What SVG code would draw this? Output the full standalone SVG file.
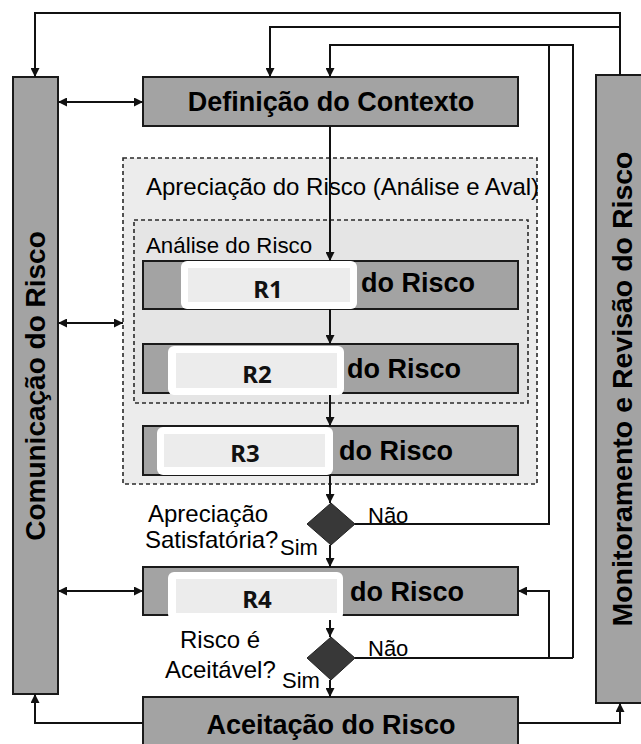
<svg xmlns="http://www.w3.org/2000/svg" width="641" height="744" viewBox="0 0 641 744">
<defs>
<marker id="ah" viewBox="0 0 10 10" refX="10" refY="5" markerWidth="10" markerHeight="9" markerUnits="userSpaceOnUse" orient="auto-start-reverse">
<path d="M0,0 L10,5 L0,10 z" fill="#111"/>
</marker>
<style>
.box{fill:#a3a3a3;stroke:#1a1a1a;stroke-width:2}
.dash{stroke:#2a2a2a;stroke-width:1.6;stroke-dasharray:4 3}
.big{font-family:"Liberation Sans",Arial,sans-serif;font-weight:bold;font-size:27px;fill:#000}
.vert{font-family:"Liberation Sans",Arial,sans-serif;font-weight:bold;font-size:28.5px;fill:#000}
.lbl{font-family:"Liberation Sans",Arial,sans-serif;font-size:24px;fill:#000}
.rl{font-family:"Noto Sans","Liberation Sans",sans-serif;font-weight:bold;font-size:24px;fill:#111}
.ov{fill:#fff}
.ovi{fill:#ececec}
.dia{fill:#383838;stroke:#222;stroke-width:1}
.c{fill:none;stroke:#111;stroke-width:2}
.ca{fill:none;stroke:#111;stroke-width:2;marker-end:url(#ah)}
.cb{fill:none;stroke:#111;stroke-width:2;marker-end:url(#ah);marker-start:url(#ah)}
</style>
</defs>
<rect width="641" height="744" fill="#fff"/>

<g id="apreciacao">
<rect x="123" y="158" width="414" height="326" fill="#ececec" class="dash"/>
<text class="lbl" x="146" y="195" font-size="23.5">Apreciação do Risco (Análise e Aval)</text>
</g>
<g id="analise">
<rect x="134" y="220" width="394" height="183" fill="#e5e5e5" class="dash"/>
<text class="lbl" x="146" y="253" style="font-size:22.3px">Análise do Risco</text>
</g>

<g id="comunicacao">
<rect class="box" x="13" y="77" width="45" height="617"/>
<text class="vert" transform="translate(45,386) rotate(-90)" text-anchor="middle" style="font-size:28px">Comunicação do Risco</text>
</g>
<g id="monitoramento">
<rect class="box" x="596" y="75" width="50" height="628"/>
<text class="vert" transform="translate(632,389) rotate(-90)" text-anchor="middle">Monitoramento e Revisão do Risco</text>
</g>

<g id="definicao">
<rect class="box" x="143" y="77" width="375" height="49"/>
<text class="big" x="331" y="111" text-anchor="middle">Definição do Contexto</text>
</g>

<g id="r1">
<rect class="box" x="143" y="261" width="375" height="48"/>
<text class="big" x="361" y="292">do Risco</text>
<rect class="ov" x="181" y="261" width="176" height="48" rx="6"/>
<rect class="ovi" x="188" y="268" width="162" height="34"/>
<text class="rl" x="268" y="298" text-anchor="middle">R1</text>
</g>
<g id="r2">
<rect class="box" x="143" y="344" width="375" height="49"/>
<text class="big" x="347" y="378">do Risco</text>
<rect class="ov" x="168" y="346" width="176" height="49" rx="6"/>
<rect class="ovi" x="176" y="353" width="161" height="35"/>
<text class="rl" x="257" y="383" text-anchor="middle">R2</text>
</g>
<g id="r3">
<rect class="box" x="143" y="426" width="375" height="49"/>
<text class="big" x="339" y="460">do Risco</text>
<rect class="ov" x="157" y="427" width="176" height="48" rx="6"/>
<rect class="ovi" x="164" y="434" width="161" height="33"/>
<text class="rl" x="245" y="462" text-anchor="middle">R3</text>
</g>

<g id="decisao1">
<polygon class="dia" points="331,503 355,524 331,545 307,524"/>
<text class="lbl" x="148" y="522">Apreciação</text>
<text class="lbl" x="145" y="548">Satisfatória?</text>
<text class="lbl" x="280" y="555" style="font-size:22px">Sim</text>
<text class="lbl" x="368" y="523" style="font-size:22px">Não</text>
</g>

<g id="r4">
<rect class="box" x="143" y="567" width="375" height="48"/>
<text class="big" x="350" y="601">do Risco</text>
<rect class="ov" x="168" y="572" width="175" height="48" rx="6"/>
<rect class="ovi" x="176" y="579" width="161" height="34"/>
<text class="rl" x="257" y="608" text-anchor="middle">R4</text>
</g>

<g id="decisao2">
<polygon class="dia" points="331,637 355,658 331,680 307,658"/>
<text class="lbl" x="180" y="648">Risco é</text>
<text class="lbl" x="165" y="678">Aceitável?</text>
<text class="lbl" x="282" y="688" style="font-size:22px">Sim</text>
<text class="lbl" x="368" y="656" style="font-size:22px">Não</text>
</g>

<g id="aceitacao">
<rect class="box" x="143" y="697" width="375" height="52"/>
<text class="big" x="331" y="734" text-anchor="middle">Aceitação do Risco</text>
</g>

<g id="connectors">
<path class="ca" d="M620,75 V13 H35 V77"/>
<path class="ca" d="M620,27 H270 V77"/>
<path class="ca" d="M573,658 V45 H330 V77"/>
<path class="c" d="M549,45 V524 H355"/>
<path class="c" d="M355,658 H573"/>
<path class="ca" d="M549,658 V591 H518"/>
<path class="cb" d="M58,102 H143"/>
<path class="cb" d="M58,323 H123"/>
<path class="cb" d="M58,591 H143"/>
<path class="ca" d="M330,126 V261"/>
<path class="ca" d="M330,309 V344"/>
<path class="ca" d="M330,395 V426"/>
<path class="ca" d="M330,475 V503"/>
<path class="ca" d="M330,545 V567"/>
<path class="ca" d="M330,620 V637"/>
<path class="ca" d="M330,680 V697"/>
<path class="ca" d="M143,723 H35 V694"/>
<path class="ca" d="M518,723 H620 V703"/>
</g>
</svg>
